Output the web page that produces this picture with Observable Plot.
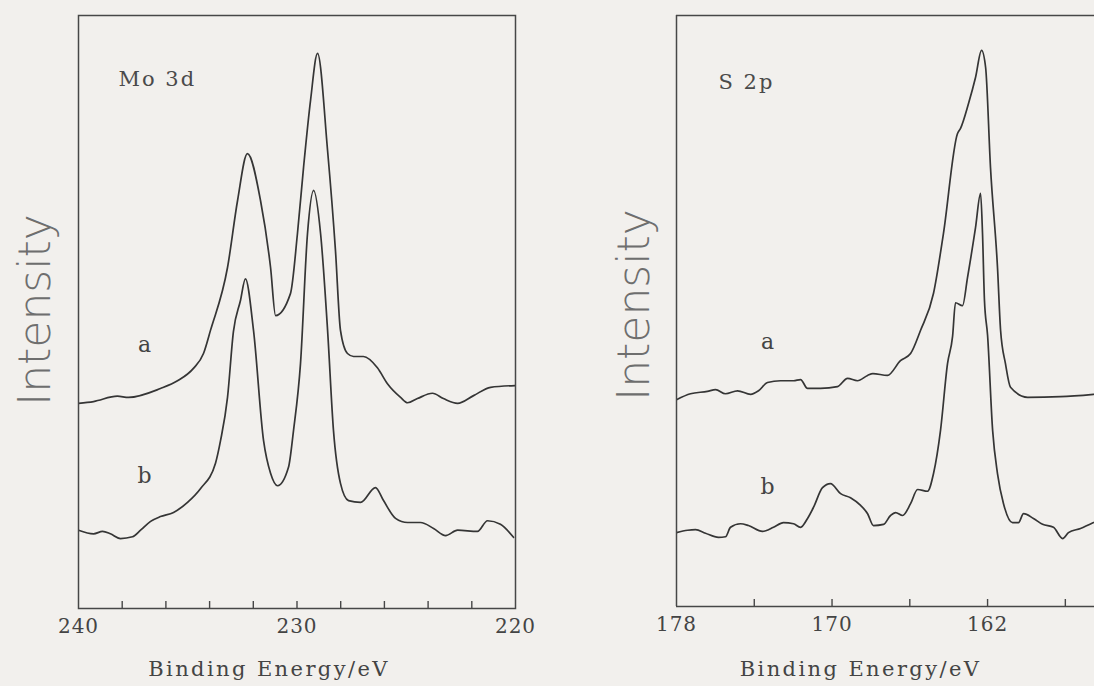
<!DOCTYPE html>
<html><head><meta charset="utf-8">
<script src="https://cdn.jsdelivr.net/npm/d3@7"></script>
<script src="https://cdn.jsdelivr.net/npm/@observablehq/plot@0.6"></script>
<style>
html,body{margin:0;padding:0;background:#f2f0ed;overflow:hidden}
#wrap{position:relative;width:1094px;height:686px;background:#f2f0ed}
#left,#right{position:absolute;top:0}
#left{left:0}
#right{left:560px}
svg{display:block}
</style></head><body>
<div id="wrap"><div id="left"></div><div id="right"></div></div>
<script>
// ---- Mo 3d panel: [binding energy (eV), intensity (a.u.)] ----
const moCurveA = [
  [240.0,34.6],[239.31,34.9],[238.22,35.8],[237.71,35.6],[236.25,37.1],[235.47,38.4],
  [234.74,40.5],[234.28,43.0],[233.96,46.9],[233.18,57.5],[232.72,68.8],[232.27,76.7],
  [231.67,68.8],[231.21,57.5],[230.98,49.4],[230.30,53.1],[229.98,63.2],[229.70,74.4],
  [229.38,85.7],[229.06,93.6],[228.60,77.2],[228.24,60.4],[228.01,46.9],[227.69,43.0],
  [227.41,42.5],[226.96,42.5],[226.32,40.6],[225.86,37.9],[225.26,35.6],[224.94,34.7],
  [224.49,35.4],[223.80,36.3],[223.30,35.4],[222.65,34.6],[221.92,35.9],[221.14,37.3],
  [220.0,37.6]
];
const moCurveB = [
  [240.0,13.2],[239.31,12.6],[238.90,13.0],[238.54,12.6],[238.08,11.8],[237.53,12.1],
  [237.16,13.2],[236.70,14.7],[236.25,15.5],[235.65,16.2],[235.01,17.9],[234.42,20.2],
  [233.73,24.5],[233.50,28.3],[233.18,35.6],[232.91,46.7],[232.59,51.9],[232.36,55.6],
  [231.99,46.9],[231.53,28.3],[231.21,22.8],[230.89,20.7],[230.39,23.8],[230.16,30.0],
  [229.84,41.3],[229.52,63.2],[229.24,70.5],[228.92,63.2],[228.60,46.9],[228.33,30.0],
  [228.01,21.1],[227.64,18.2],[227.09,17.9],[226.41,20.4],[226.04,18.2],[225.49,15.2],
  [224.94,14.5],[224.35,14.5],[223.75,13.5],[223.20,12.3],[222.65,13.2],[221.74,13.0],
  [221.28,14.8],[220.69,14.2],[220.09,12.0]
];
const moDomain = [240, 220];
const moTickLabels = [240, 230, 220];
const moMinorTicks = [238, 236, 234, 232, 230, 228, 226, 224, 222];
const moCurveLabels = [{be: 236.98, i: 44.4, t: "a"}, {be: 236.98, i: 22.3, t: "b"}];

// ---- S 2p panel ----
const sCurveA = [
  [178.0,35.0],[177.28,36.0],[176.41,36.4],[175.99,36.7],[175.48,36.0],[174.86,36.5],
  [174.19,35.9],[173.78,36.5],[173.32,37.9],[172.65,38.2],[171.98,38.2],[171.62,38.4],
  [171.26,36.9],[170.59,36.9],[169.72,37.2],[169.20,38.6],[168.69,38.2],[168.17,39.1],
  [167.90,39.4],[167.15,39.1],[166.48,41.6],[165.96,42.8],[165.45,46.7],[164.78,53.0],
  [164.27,63.1],[163.55,80.0],[163.39,80.9],[162.98,85.1],[162.62,89.5],[162.31,94.1],
  [162.10,91.2],[161.85,74.3],[161.49,57.4],[161.33,46.7],[161.08,41.1],[160.82,37.1],
  [159.94,35.4],[158.25,35.5],[156.55,35.9]
];
const sCurveB = [
  [178.0,12.5],[177.43,12.9],[177.02,13.0],[176.51,12.4],[175.84,11.7],[175.48,11.8],
  [175.22,13.4],[174.71,14.0],[174.30,13.7],[173.58,12.7],[173.01,13.4],[172.50,14.2],
  [171.98,14.0],[171.62,13.4],[171.26,14.9],[170.95,16.8],[170.49,20.1],[170.08,20.8],
  [169.56,19.1],[169.05,18.4],[168.53,17.1],[168.17,15.7],[167.87,13.7],[167.35,13.9],
  [166.99,15.4],[166.73,15.9],[166.37,15.4],[165.96,17.4],[165.60,19.8],[165.09,19.5],
  [164.78,22.5],[164.42,29.8],[164.06,41.1],[163.80,45.7],[163.65,51.4],[163.29,50.9],
  [163.03,55.7],[162.62,64.1],[162.36,69.9],[162.26,63.1],[162.16,51.8],[162.00,45.9],
  [161.74,29.8],[161.49,22.5],[161.18,17.4],[160.72,14.2],[160.41,14.2],[160.15,15.7],
  [159.64,14.9],[159.17,13.9],[158.61,13.4],[158.14,11.5],[157.84,12.5],[157.22,13.2],
  [156.55,14.2]
];
const sDomain = [178, 156.5];
const sTickLabels = [178, 170, 162];
const sMinorTicks = [174, 170, 166, 162, 158];
const sCurveLabels = [{be: 173.32, i: 44.8, t: "a"}, {be: 173.32, i: 20.3, t: "b"}];

const xTitle = "Binding Energy/eV";
const yTitle = "Intensity";

const ink = "#353535";
const frameInk = "#474747";
const serif = "DejaVu Serif";

function panel({curves, domain, tickLabels, minorTicks, curveLabels, name,
                width, height, mL, mR, mT, mB, fullFrame, titleDx, titleDy, yDx, yDy, nameDx, nameDy}) {
  const frameH = height - mT - mB;
  const marks = [];
  for (const c of curves) {
    marks.push(Plot.line(c, {x: d => d[0], y: d => d[1], stroke: ink, strokeWidth: 1.7,
      curve: "monotone-x", clip: true}));
  }
  if (fullFrame) {
    marks.push(Plot.frame({stroke: frameInk, strokeWidth: 1.5}));
  } else {
    marks.push(Plot.ruleX([domain[0]], {stroke: frameInk, strokeWidth: 1.5}));
    marks.push(Plot.ruleY([0, 100], {stroke: frameInk, strokeWidth: 1.5}));
  }
  marks.push(Plot.tickX(minorTicks, {x: d => d, insetTop: frameH - 7, stroke: frameInk, strokeWidth: 1.4}));
  marks.push(Plot.axisX(tickLabels, {tickSize: 0, tickPadding: 10, fontSize: 20, fontFamily: serif, fill: "#444", label: null}));
  marks.push(Plot.text([yTitle], {frameAnchor: "left", textAnchor: "middle", lineAnchor: "middle",
    rotate: -90, dx: yDx, dy: yDy, fontSize: 44,
    fontFamily: "DejaVu Sans", fontWeight: 300, fill: "#6e6e6e", text: d => d}));
  marks.push(Plot.text([name], {frameAnchor: "top-left", dx: nameDx, dy: nameDy, textAnchor: "start",
    lineAnchor: "bottom", fontSize: 21, fontFamily: serif, fill: "#4a4a4a", text: d => d}));
  marks.push(Plot.text(curveLabels, {x: "be", y: "i", text: "t", fontSize: 22, fontFamily: serif, fill: "#444"}));
  marks.push(Plot.text([xTitle], {frameAnchor: "bottom", dx: titleDx, dy: titleDy, lineAnchor: "bottom",
    fontSize: 21, fontFamily: serif, fill: "#444", text: d => d}));
  const svg = Plot.plot({
    width, height, marginLeft: mL, marginRight: mR, marginTop: mT, marginBottom: mB,
    style: {background: "transparent", fontFamily: serif, color: ink, overflow: "visible"},
    x: {domain}, y: {domain: [0, 100], axis: null},
    marks
  });
  d3.select(svg).selectAll("text").each(function() {
    const t = this.textContent;
    if (t === xTitle) d3.select(this).style("letter-spacing", "2.4px");
    else if (t === name) d3.select(this).style("letter-spacing", "2px");
    else if (/^\d+$/.test(t)) d3.select(this).style("letter-spacing", "1px");
  });
  return svg;
}

document.getElementById("left").append(panel({
  curves: [moCurveA, moCurveB], domain: moDomain, tickLabels: moTickLabels, minorTicks: moMinorTicks,
  curveLabels: moCurveLabels, name: "Mo 3d",
  width: 560, height: 686, mL: 78, mR: 45, mT: 15, mB: 78, fullFrame: true,
  titleDx: -28, titleDy: 67, yDx: -43, yDy: -2, nameDx: 40, nameDy: 70
}));
document.getElementById("right").append(panel({
  curves: [sCurveA, sCurveB], domain: sDomain, tickLabels: sTickLabels, minorTicks: sMinorTicks,
  curveLabels: sCurveLabels, name: "S 2p",
  width: 534, height: 686, mL: 116, mR: 0, mT: 15, mB: 80, fullFrame: false,
  titleDx: -25, titleDy: 69, yDx: -42, yDy: -6, nameDx: 42, nameDy: 73
}));
</script>
</body></html>
